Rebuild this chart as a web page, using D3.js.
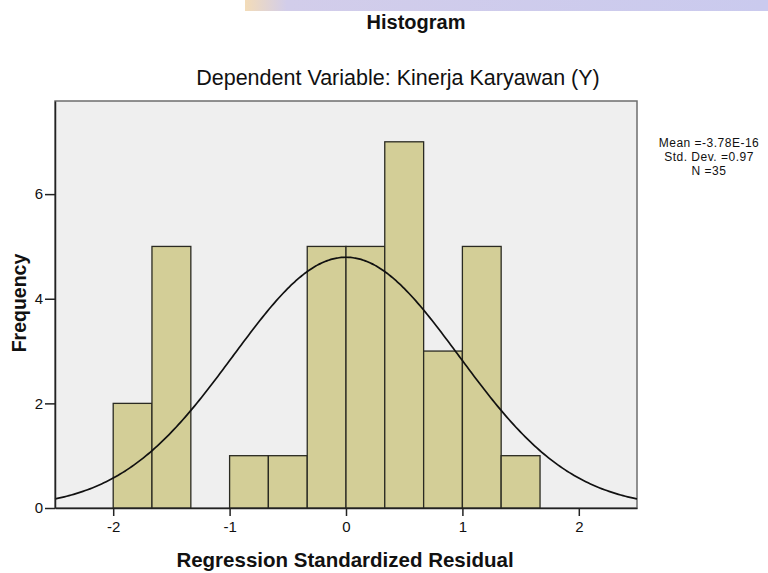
<!DOCTYPE html>
<html>
<head>
<meta charset="utf-8">
<script src="https://cdnjs.cloudflare.com/ajax/libs/d3/7.8.5/d3.min.js"></script>
<style>
  body { margin: 0; background: #fff; }
  text { font-family: "Liberation Sans", Arial, sans-serif; fill: #111; }
</style>
</head>
<body>
<div id="chart"></div>
<script>
// histogram bins (left edges) and counts
const binEdges = [-2.0, -1.667, -1.333, -1.0, -0.667, -0.333, 0.0, 0.333, 0.667, 1.0, 1.333, 1.667];
const frequencies = [2, 5, 0, 1, 1, 5, 5, 7, 3, 5, 1];
const xTicks = [-2, -1, 0, 1, 2];
const yTicks = [0, 2, 4, 6];
const statLines = ['Mean =-3.78E-16', 'Std. Dev. =0.97', 'N =35'];
const mean = -3.78e-16;
const stdDev = 0.97;
const nCases = 35;

const width = 768;
const height = 573;
const plot = {left: 55, right: 637, top: 101, bottom: 508};

const svg = d3.select('#chart')
  .append('svg')
  .attr('width', width)
  .attr('height', height);

// faint watermark band at the top of the scan
const grad = svg.append('defs').append('linearGradient')
  .attr('id', 'wm');
grad.append('stop').attr('offset', '0%').attr('stop-color', '#f3dcb8');
grad.append('stop').attr('offset', '8%').attr('stop-color', '#d2cdea');
grad.append('stop').attr('offset', '100%').attr('stop-color', '#cacaee');
svg.append('rect')
  .attr('x', 245).attr('y', 0)
  .attr('width', width - 245).attr('height', 11)
  .attr('fill', 'url(#wm)');

const x = d3.scaleLinear()
  .domain([-2.5, 2.5])
  .range([plot.left, plot.right]);

const y = d3.scaleLinear()
  .domain([0, 7.78])
  .range([plot.bottom, plot.top]);

// plot background + frame
svg.append('rect')
  .attr('x', plot.left).attr('y', plot.top)
  .attr('width', plot.right - plot.left)
  .attr('height', plot.bottom - plot.top)
  .attr('fill', '#efefef')
  .attr('stroke', '#6e6e6e')
  .attr('stroke-width', 1.5);

// bars
const bins = frequencies.map((f, i) => ({x0: binEdges[i], x1: binEdges[i + 1], count: f}))
  .filter(d => d.count > 0);

svg.append('g').attr('class', 'bars')
  .selectAll('rect')
  .data(bins)
  .enter()
  .append('rect')
  .attr('x', d => x(d.x0))
  .attr('y', d => y(d.count))
  .attr('width', d => x(d.x1) - x(d.x0))
  .attr('height', d => y(0) - y(d.count))
  .attr('fill', '#d3ce97')
  .attr('stroke', '#2a2a22')
  .attr('stroke-width', 1.3);

// fitted normal curve (scaled by N * bin width)
const binWidth = binEdges[1] - binEdges[0];
const normal = v => nCases * binWidth *
  Math.exp(-0.5 * Math.pow((v - mean) / stdDev, 2)) / (stdDev * Math.sqrt(2 * Math.PI));
const curvePts = d3.range(-2.5, 2.5001, 0.02);

svg.append('path')
  .datum(curvePts)
  .attr('d', d3.line().x(d => x(d)).y(d => y(normal(d))).curve(d3.curveBasis))
  .attr('fill', 'none')
  .attr('stroke', '#111')
  .attr('stroke-width', 1.7);

// axes (hyphen minus like SPSS)
const fmt = d => String(d);
const xAxis = d3.axisBottom(x).tickValues(xTicks).tickSize(8).tickSizeOuter(0)
  .tickPadding(5).tickFormat(fmt);
const gx = svg.append('g')
  .attr('transform', `translate(0, ${plot.bottom})`)
  .call(xAxis);

const yAxis = d3.axisLeft(y).tickValues(yTicks).tickSize(10).tickSizeOuter(0)
  .tickPadding(2).tickFormat(fmt);
const gy = svg.append('g')
  .attr('transform', `translate(${plot.left}, 0)`)
  .call(yAxis);

[gx, gy].forEach(g => {
  g.select('.domain').attr('stroke', '#222').attr('stroke-width', 1.5);
  g.selectAll('.tick line').attr('stroke', '#222').attr('stroke-width', 1.5);
  g.selectAll('.tick text')
    .style('font-family', '"Liberation Sans", Arial, sans-serif')
    .style('font-size', '15px')
    .attr('fill', '#222');
});

// titles
svg.append('text')
  .attr('x', 416).attr('y', 29)
  .attr('text-anchor', 'middle')
  .style('font-size', '20px')
  .style('font-weight', 'bold')
  .text('Histogram');

svg.append('text')
  .attr('x', 398).attr('y', 85)
  .attr('text-anchor', 'middle')
  .style('font-size', '21.5px')
  .text('Dependent Variable: Kinerja Karyawan (Y)');

svg.append('text')
  .attr('x', 345).attr('y', 567)
  .attr('text-anchor', 'middle')
  .style('font-size', '20.5px')
  .style('font-weight', 'bold')
  .text('Regression Standardized Residual');

svg.append('text')
  .attr('transform', 'translate(26, 303) rotate(-90)')
  .attr('text-anchor', 'middle')
  .style('font-size', '19.5px')
  .style('font-weight', 'bold')
  .text('Frequency');

// stats block
svg.append('g').selectAll('text')
  .data(statLines)
  .enter()
  .append('text')
  .attr('x', 709)
  .attr('y', (d, i) => 147 + i * 14)
  .attr('text-anchor', 'middle')
  .style('font-size', '12px')
  .style('letter-spacing', '0.5px')
  .text(d => d);
</script>
</body>
</html>
